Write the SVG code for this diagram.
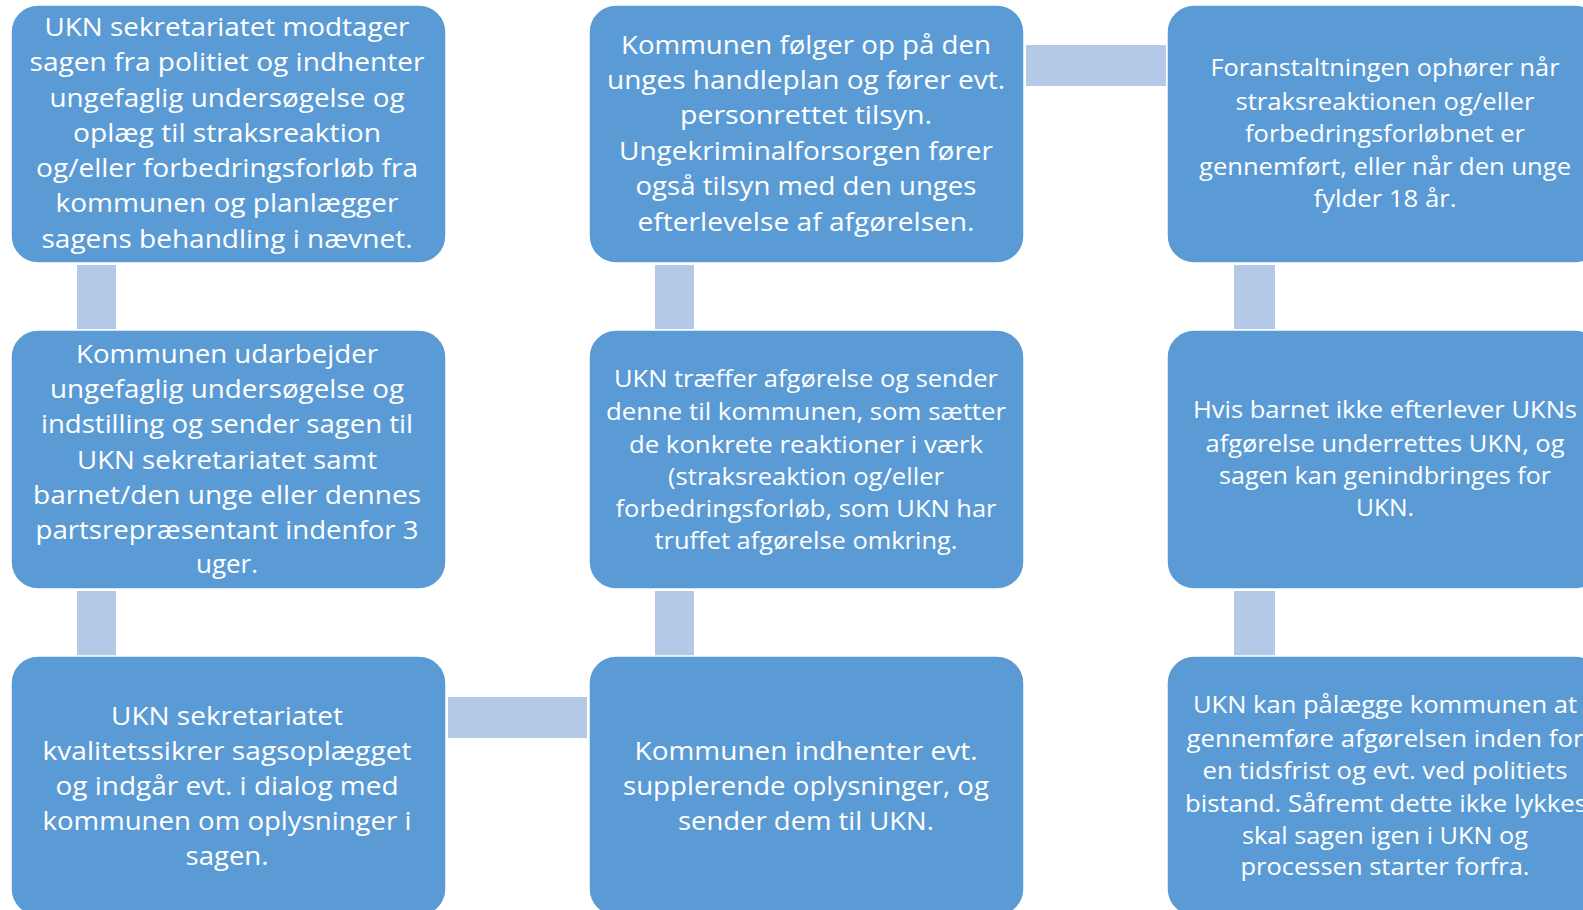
<svg xmlns="http://www.w3.org/2000/svg" width="1583" height="910" viewBox="0 0 1583 910">
<style>
.box{fill:#5B9BD5;stroke:#FFFFFF;stroke-width:1.5}
.bar{fill:#B4C8E7}
.t{font-family:"Open Sans","Liberation Sans",sans-serif;fill:#FFFFFF;font-size:26px}
.s{font-size:24px}
</style>
<rect width="1583" height="910" fill="#FFFFFF"/>
<g id="connectors">
<rect class="bar" x="77" y="265" width="39" height="64"/>
<rect class="bar" x="77" y="591" width="39" height="65"/>
<rect class="bar" x="655" y="265" width="39" height="64"/>
<rect class="bar" x="655" y="591" width="39" height="65"/>
<rect class="bar" x="1234" y="265" width="41" height="64"/>
<rect class="bar" x="1234" y="591" width="41" height="65"/>
<rect class="bar" x="1026" y="45" width="140" height="41"/>
<rect class="bar" x="448" y="697" width="139" height="41"/>
</g>
<g id="n1">
<rect class="box" x="11" y="5" width="435" height="258" rx="27"/>
<g class="t">
<text x="44.5" y="36" textLength="365" lengthAdjust="spacingAndGlyphs">UKN sekretariatet modtager</text>
<text x="29.5" y="71" textLength="395" lengthAdjust="spacingAndGlyphs">sagen fra politiet og indhenter</text>
<text x="49.5" y="107" textLength="355" lengthAdjust="spacingAndGlyphs">ungefaglig undersøgelse og</text>
<text x="73" y="142" textLength="308" lengthAdjust="spacingAndGlyphs">oplæg til straksreaktion</text>
<text x="36" y="177" textLength="382" lengthAdjust="spacingAndGlyphs">og/eller forbedringsforløb fra</text>
<text x="55.5" y="212" textLength="343" lengthAdjust="spacingAndGlyphs">kommunen og planlægger</text>
<text x="41.5" y="248" textLength="371" lengthAdjust="spacingAndGlyphs">sagens behandling i nævnet.</text>
</g>
</g>
<g id="n2">
<rect class="box" x="11" y="330" width="435" height="259" rx="27"/>
<g class="t">
<text x="76" y="363" textLength="302" lengthAdjust="spacingAndGlyphs">Kommunen udarbejder</text>
<text x="50" y="398" textLength="354" lengthAdjust="spacingAndGlyphs">ungefaglig undersøgelse og</text>
<text x="41" y="433" textLength="372" lengthAdjust="spacingAndGlyphs">indstilling og sender sagen til</text>
<text x="77" y="469" textLength="300" lengthAdjust="spacingAndGlyphs">UKN sekretariatet samt</text>
<text x="33" y="504" textLength="388" lengthAdjust="spacingAndGlyphs">barnet/den unge eller dennes</text>
<text x="35.5" y="539" textLength="383" lengthAdjust="spacingAndGlyphs">partsrepræsentant indenfor 3</text>
<text x="196" y="573" textLength="62" lengthAdjust="spacingAndGlyphs">uger.</text>
</g>
</g>
<g id="n3">
<rect class="box" x="11" y="656" width="435" height="260" rx="27"/>
<g class="t">
<text x="111" y="725" textLength="232" lengthAdjust="spacingAndGlyphs">UKN sekretariatet</text>
<text x="42.5" y="760" textLength="369" lengthAdjust="spacingAndGlyphs">kvalitetssikrer sagsoplægget</text>
<text x="55.5" y="795" textLength="343" lengthAdjust="spacingAndGlyphs">og indgår evt. i dialog med</text>
<text x="42.5" y="830" textLength="369" lengthAdjust="spacingAndGlyphs">kommunen om oplysninger i</text>
<text x="185.5" y="865" textLength="83" lengthAdjust="spacingAndGlyphs">sagen.</text>
</g>
</g>
<g id="n4">
<rect class="box" x="589" y="656" width="435" height="260" rx="27"/>
<g class="t">
<text x="634.5" y="760" textLength="343" lengthAdjust="spacingAndGlyphs">Kommunen indhenter evt.</text>
<text x="623" y="795" textLength="366" lengthAdjust="spacingAndGlyphs">supplerende oplysninger, og</text>
<text x="678" y="830" textLength="256" lengthAdjust="spacingAndGlyphs">sender dem til UKN.</text>
</g>
</g>
<g id="n5">
<rect class="box" x="589" y="330" width="435" height="259" rx="27"/>
<g class="t s">
<text x="614" y="387" textLength="384" lengthAdjust="spacingAndGlyphs">UKN træffer afgørelse og sender</text>
<text x="606" y="420" textLength="400" lengthAdjust="spacingAndGlyphs">denne til kommunen, som sætter</text>
<text x="629" y="453" textLength="354" lengthAdjust="spacingAndGlyphs">de konkrete reaktioner i værk</text>
<text x="668" y="485" textLength="276" lengthAdjust="spacingAndGlyphs">(straksreaktion og/eller</text>
<text x="615.5" y="517" textLength="381" lengthAdjust="spacingAndGlyphs">forbedringsforløb, som UKN har</text>
<text x="654.5" y="549" textLength="303" lengthAdjust="spacingAndGlyphs">truffet afgørelse omkring.</text>
</g>
</g>
<g id="n6">
<rect class="box" x="589" y="5" width="435" height="258" rx="27"/>
<g class="t">
<text x="621" y="54" textLength="370" lengthAdjust="spacingAndGlyphs">Kommunen følger op på den</text>
<text x="607" y="89" textLength="398" lengthAdjust="spacingAndGlyphs">unges handleplan og fører evt.</text>
<text x="680" y="124" textLength="252" lengthAdjust="spacingAndGlyphs">personrettet tilsyn.</text>
<text x="619" y="160" textLength="374" lengthAdjust="spacingAndGlyphs">Ungekriminalforsorgen fører</text>
<text x="635.5" y="195" textLength="341" lengthAdjust="spacingAndGlyphs">også tilsyn med den unges</text>
<text x="637.5" y="231" textLength="337" lengthAdjust="spacingAndGlyphs">efterlevelse af afgørelsen.</text>
</g>
</g>
<g id="n7">
<rect class="box" x="1167" y="5" width="435" height="258" rx="27"/>
<g class="t s">
<text x="1210.5" y="76" textLength="349" lengthAdjust="spacingAndGlyphs">Foranstaltningen ophører når</text>
<text x="1235.5" y="110" textLength="299" lengthAdjust="spacingAndGlyphs">straksreaktionen og/eller</text>
<text x="1245" y="142" textLength="280" lengthAdjust="spacingAndGlyphs">forbedringsforløbnet  er</text>
<text x="1199" y="175" textLength="372" lengthAdjust="spacingAndGlyphs">gennemført, eller når den unge</text>
<text x="1313.5" y="207" textLength="143" lengthAdjust="spacingAndGlyphs">fylder  18 år.</text>
</g>
</g>
<g id="n8">
<rect class="box" x="1167" y="330" width="435" height="259" rx="27"/>
<g class="t s">
<text x="1193" y="418" textLength="384" lengthAdjust="spacingAndGlyphs">Hvis barnet ikke efterlever UKNs</text>
<text x="1205.5" y="452" textLength="359" lengthAdjust="spacingAndGlyphs">afgørelse underrettes UKN, og</text>
<text x="1219" y="484" textLength="332" lengthAdjust="spacingAndGlyphs">sagen kan genindbringes for</text>
<text x="1356" y="516" textLength="58" lengthAdjust="spacingAndGlyphs">UKN.</text>
</g>
</g>
<g id="n9">
<rect class="box" x="1167" y="656" width="435" height="260" rx="27"/>
<g class="t s">
<text x="1193" y="713" textLength="384" lengthAdjust="spacingAndGlyphs">UKN kan pålægge kommunen at</text>
<text x="1186.5" y="747" textLength="397" lengthAdjust="spacingAndGlyphs">gennemføre afgørelsen inden for</text>
<text x="1202.5" y="779" textLength="365" lengthAdjust="spacingAndGlyphs">en tidsfrist og evt. ved politiets</text>
<text x="1185" y="812" textLength="402" lengthAdjust="spacingAndGlyphs">bistand. Såfremt dette ikke lykkes</text>
<text x="1242" y="844" textLength="286" lengthAdjust="spacingAndGlyphs">skal sagen igen i UKN og</text>
<text x="1240.5" y="875" textLength="289" lengthAdjust="spacingAndGlyphs">processen starter forfra.</text>
</g>
</g>
</svg>
